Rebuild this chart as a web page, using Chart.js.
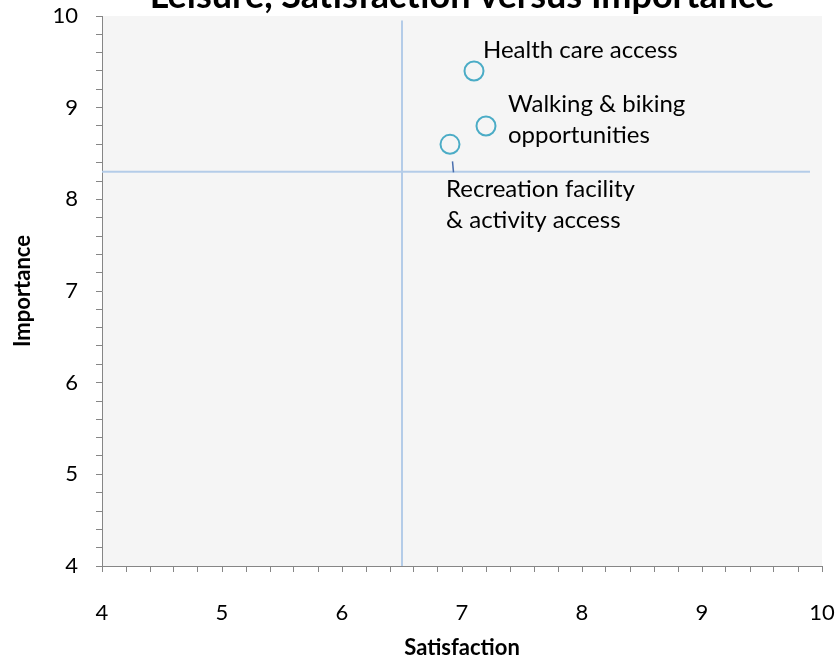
<!DOCTYPE html>
<html lang="en">
<head>
<meta charset="UTF-8">
<title>Leisure, Satisfaction versus Importance</title>
<style>
  html, body { margin: 0; padding: 0; background: #fff; }
  #wrap { width: 836px; height: 663px; }
</style>
<script src="https://cdn.jsdelivr.net/npm/chart.js"></script>
</head>
<body>
<div id="wrap"><canvas id="chart" width="836" height="663"></canvas></div>
<script>
  // survey items: satisfaction (x) vs importance (y)
  const items = ['Health care access', 'Walking & biking opportunities', 'Recreation facility & activity access'];
  const satisfaction = [7.1, 7.2, 6.9];
  const importance = [9.4, 8.8, 8.6];

  // average lines splitting the quadrants
  const avgSatisfactionX = [6.5, 6.5];
  const avgSatisfactionY = [4, 9.95];
  const avgImportanceX = [4, 9.9];
  const avgImportanceY = [8.3, 8.3];

  const xTicks = [4, 5, 6, 7, 8, 9, 10];
  const yTicks = [4, 5, 6, 7, 8, 9, 10];

  const FONT = 'Lato, "Open Sans", sans-serif';
  const AXIS = '#868686';
  const AVG_LINE = '#b4cce8';

  // how each point's label is placed relative to the marker
  const labelLayout = [
    { lines: ['Health care access'], dx: 9, dy: -21 },
    { lines: ['Walking & biking', 'opportunities'], dx: 22, dy: -22 },
    { lines: ['Recreation facility', '& activity access'], dx: -4, dy: 45, leader: true }
  ];

  function minorTicks(axis) {
    const out = [];
    for (let i = 0; i <= 30; i++) out.push({ value: Math.round((4 + i * 0.2) * 10) / 10 });
    axis.ticks = out;
  }

  // keep label overhang from shrinking the plot area
  function noOverhang(s) {
    s.paddingLeft = s.paddingRight = s.paddingTop = s.paddingBottom = 0;
  }

  const plotBackground = {
    id: 'plotBackground',
    beforeDraw(chart) {
      const { ctx, chartArea: a } = chart;
      ctx.save();
      ctx.fillStyle = '#f5f5f5';
      ctx.fillRect(a.left, a.top, a.right - a.left, a.bottom - a.top);
      ctx.restore();
    }
  };

  const pointLabels = {
    id: 'pointLabels',
    afterDatasetsDraw(chart) {
      const ctx = chart.ctx;
      const meta = chart.getDatasetMeta(2);
      ctx.save();
      ctx.font = '24px ' + FONT;
      ctx.fillStyle = '#000';
      ctx.textAlign = 'left';
      ctx.textBaseline = 'middle';
      meta.data.forEach((pt, i) => {
        const l = labelLayout[i];
        l.lines.forEach((t, j) => ctx.fillText(t, pt.x + l.dx, pt.y + l.dy + j * 31));
        if (l.leader) {
          ctx.strokeStyle = '#4a6fae';
          ctx.lineWidth = 1.5;
          ctx.beginPath();
          ctx.moveTo(pt.x + 2.5, pt.y + 17);
          ctx.lineTo(pt.x + 3.5, pt.y + 28);
          ctx.stroke();
        }
      });
      ctx.restore();
    }
  };

  const chartTitle = {
    id: 'chartTitle',
    afterDraw(chart) {
      const ctx = chart.ctx;
      const a = chart.chartArea;
      ctx.save();
      ctx.font = 'bold 36px ' + FONT;
      ctx.fillStyle = '#000';
      ctx.textAlign = 'center';
      ctx.textBaseline = 'alphabetic';
      ctx.fillText('Leisure, Satisfaction versus Importance', (a.left + a.right) / 2, 8);
      ctx.restore();
    }
  };

  new Chart(document.getElementById('chart'), {
    type: 'scatter',
    data: {
      datasets: [
        {
          data: avgSatisfactionX.map((x, i) => ({ x, y: avgSatisfactionY[i] })),
          showLine: true, borderColor: AVG_LINE, borderWidth: 2, pointRadius: 0
        },
        {
          data: avgImportanceX.map((x, i) => ({ x, y: avgImportanceY[i] })),
          showLine: true, borderColor: AVG_LINE, borderWidth: 2, pointRadius: 0
        },
        {
          label: 'Items',
          data: satisfaction.map((x, i) => ({ x, y: importance[i], name: items[i] })),
          pointRadius: 9.5,
          pointBorderWidth: 2,
          borderColor: '#4bacc6',
          backgroundColor: 'rgba(0,0,0,0)'
        }
      ]
    },
    options: {
      responsive: false,
      animation: false,
      layout: { padding: { top: 16, right: 14, left: 0, bottom: 0 } },
      plugins: { legend: { display: false }, tooltip: { enabled: false } },
      scales: {
        x: {
          type: 'linear', min: 4, max: 10,
          afterBuildTicks: minorTicks,
          afterFit(s) { s.height = 97; noOverhang(s); },
          grid: { drawOnChartArea: false, tickLength: 6, color: AXIS },
          border: { color: AXIS, width: 1 },
          ticks: {
            autoSkip: false, maxRotation: 0, padding: 28, color: '#000',
            font: { family: FONT, size: 22 },
            callback: v => xTicks.includes(v) ? String(v) : ''
          },
          title: {
            display: true, text: 'Satisfaction', color: '#000',
            font: { family: FONT, size: 22, weight: 'bold' },
            padding: { top: 0, bottom: 2 }
          }
        },
        y: {
          type: 'linear', min: 4, max: 10,
          afterBuildTicks: minorTicks,
          afterFit(s) { s.width = 102; noOverhang(s); },
          grid: { drawOnChartArea: false, tickLength: 6, color: AXIS },
          border: { color: AXIS, width: 1 },
          ticks: {
            autoSkip: false, padding: 18, color: '#000',
            font: { family: FONT, size: 22 },
            callback: v => yTicks.includes(v) ? String(v) : ''
          },
          title: {
            display: true, text: 'Importance', color: '#000',
            font: { family: FONT, size: 22, weight: 'bold' },
            padding: { top: 10, bottom: 0 }
          }
        }
      }
    },
    plugins: [plotBackground, pointLabels, chartTitle]
  });
</script>
</body>
</html>
